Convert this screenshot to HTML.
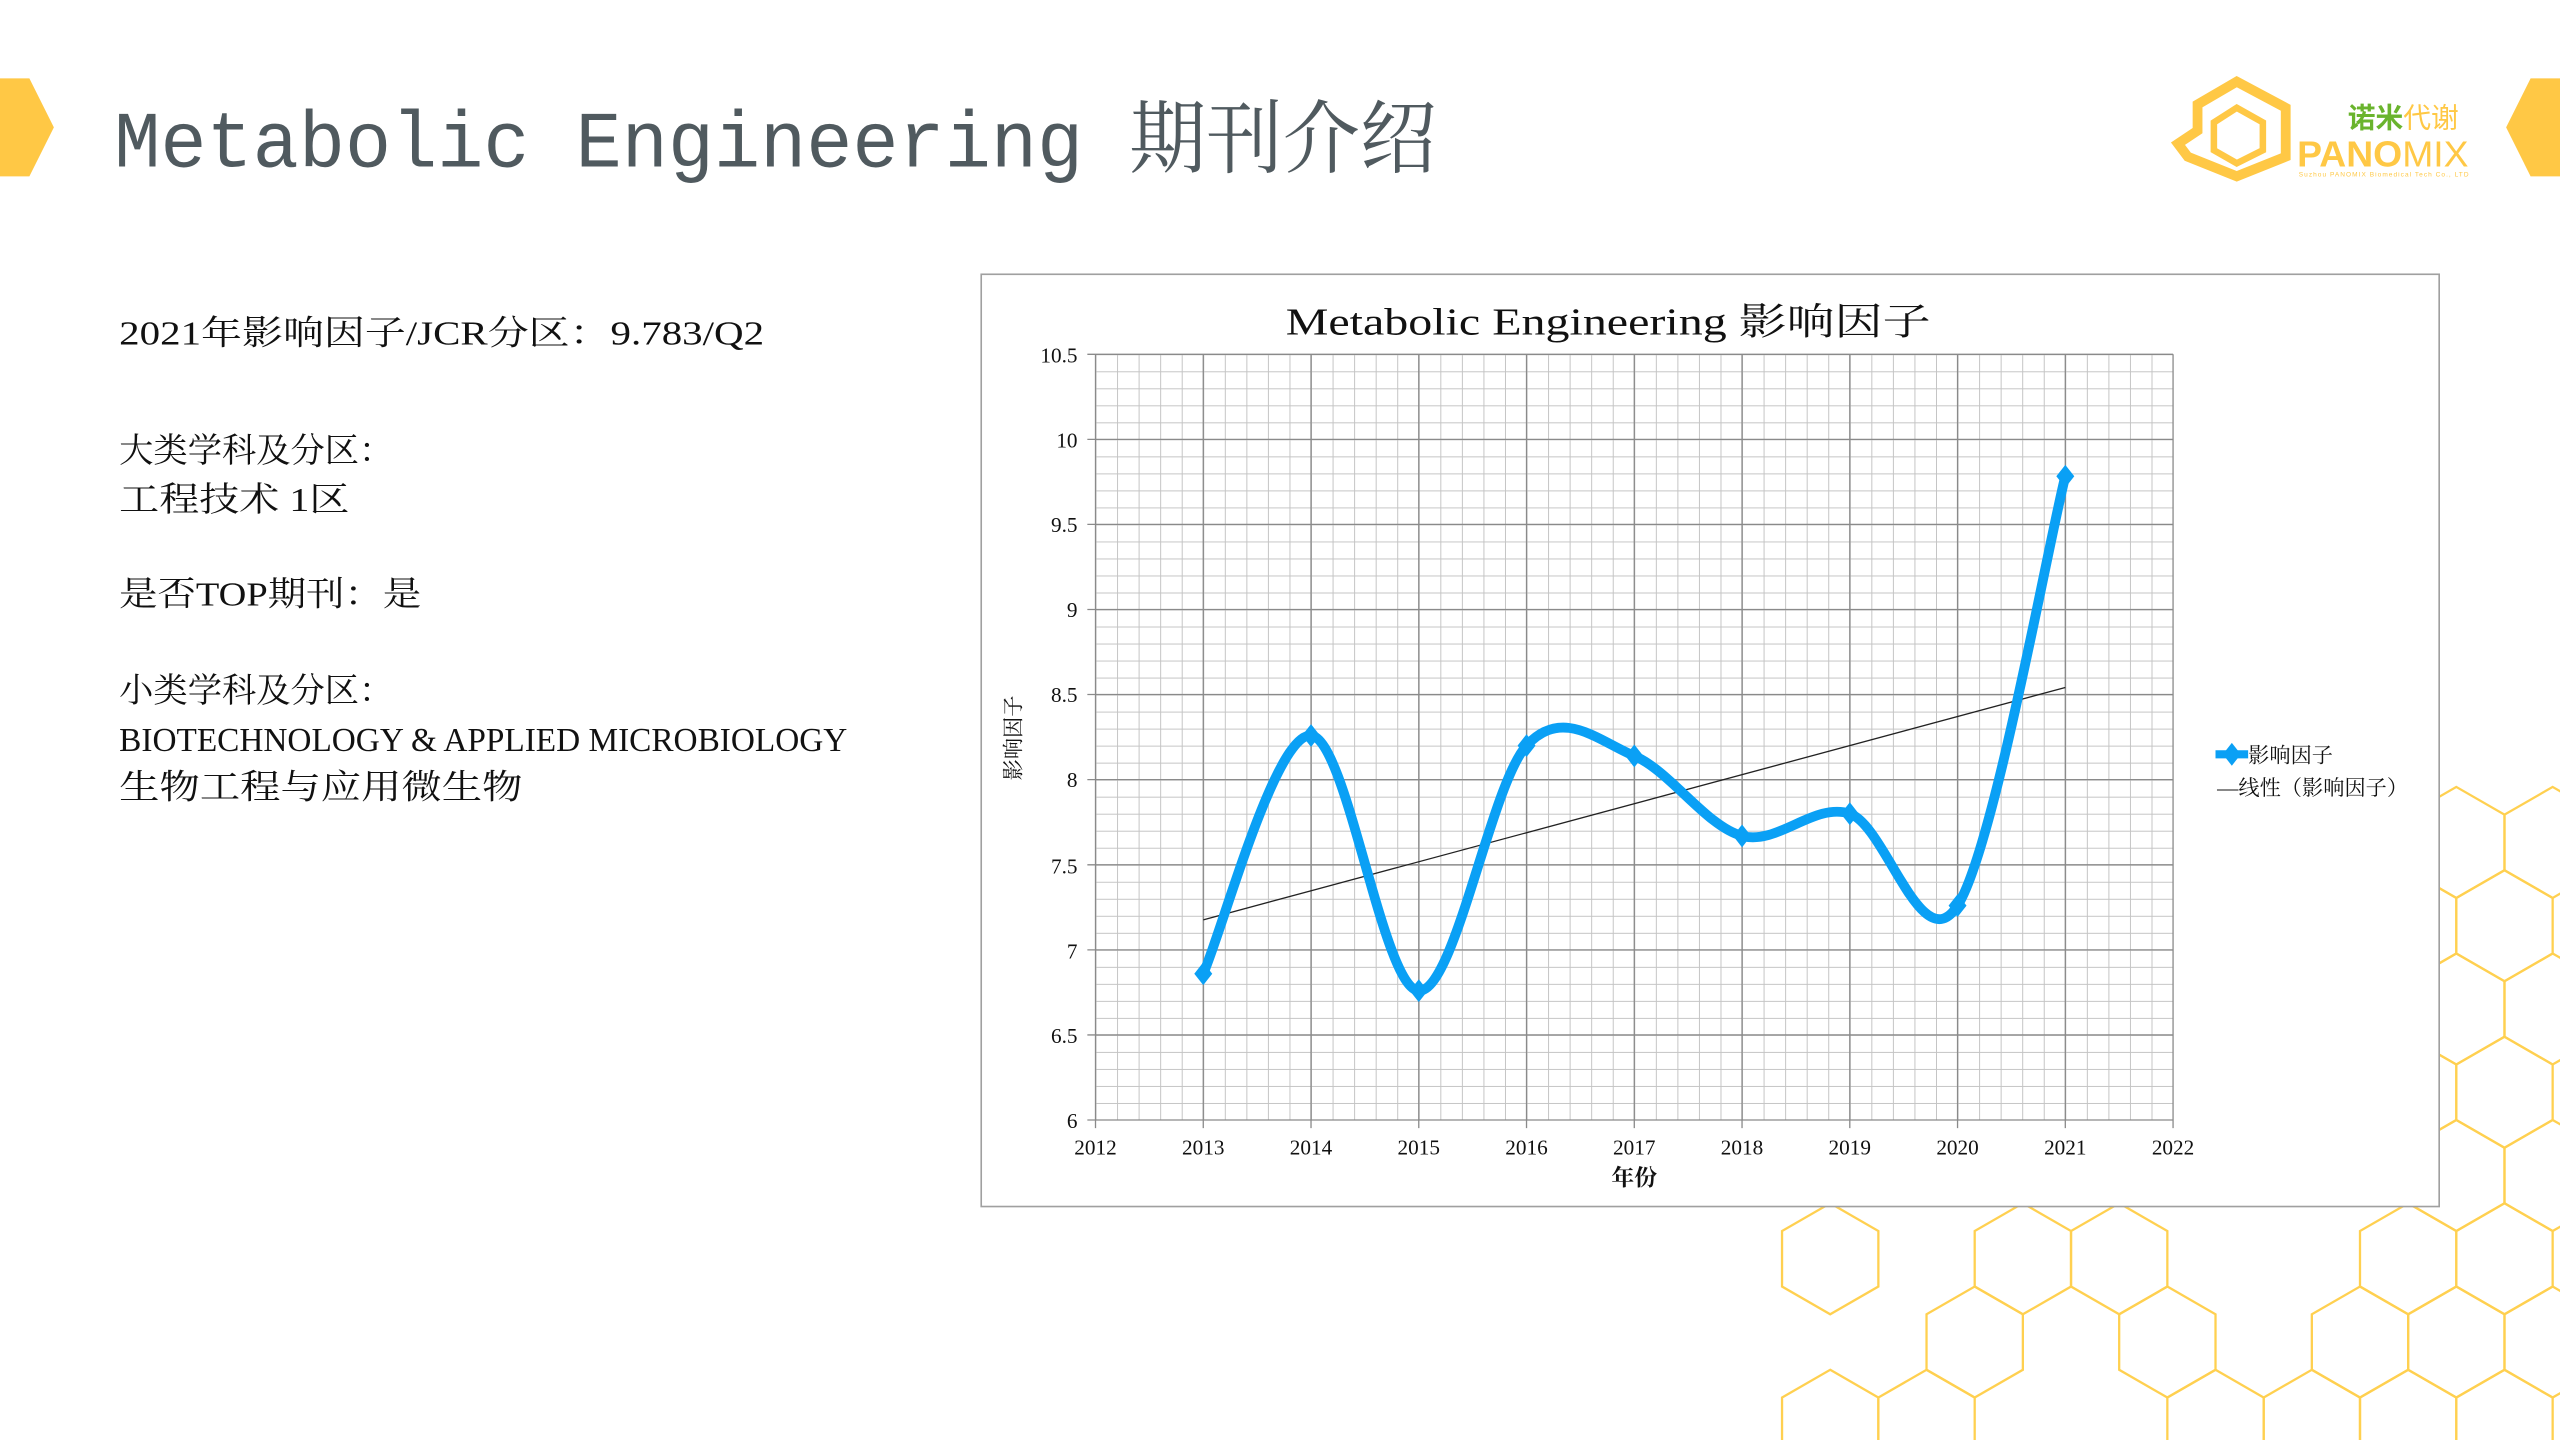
<!DOCTYPE html>
<html><head><meta charset="utf-8"><style>
html,body{margin:0;padding:0;background:#fff;width:2560px;height:1440px;overflow:hidden}
svg{display:block}
.serif{font-family:"Liberation Serif","Noto Serif CJK SC",serif}
.mono{font-family:"Liberation Mono","Noto Serif CJK SC",monospace}
</style></head><body>
<svg width="2560" height="1440" viewBox="0 0 1568 882" xmlns="http://www.w3.org/2000/svg">
<defs>
<polygon id="hx" points="0,-34 29.5,-17 29.5,17 0,34 -29.5,17 -29.5,-17" fill="none" stroke="#ffd050" stroke-width="1.4"/>
<pattern id="gv" patternUnits="userSpaceOnUse" x="671" y="0" width="13.2" height="10">
<line x1="0.3" y1="0" x2="0.3" y2="10" stroke="#c4c4c4" stroke-width="0.6"/></pattern>
<pattern id="gh" patternUnits="userSpaceOnUse" x="0" y="217" width="10" height="10.422">
<line x1="0" y1="0.3" x2="10" y2="0.3" stroke="#c4c4c4" stroke-width="0.6"/></pattern>
<polygon id="dm" points="0,-7 5.5,0 0,7 -5.5,0" fill="#0aa0f5"/>
</defs>
<g>
<use href="#hx" x="1121" y="771"/><use href="#hx" x="1239" y="771"/><use href="#hx" x="1298" y="771"/><use href="#hx" x="1475" y="771"/><use href="#hx" x="1534" y="771"/>
<use href="#hx" x="1209.5" y="822"/><use href="#hx" x="1327.5" y="822"/><use href="#hx" x="1445.5" y="822"/><use href="#hx" x="1504.5" y="822"/><use href="#hx" x="1563.5" y="822"/>
<use href="#hx" x="1121" y="873"/><use href="#hx" x="1180" y="873"/><use href="#hx" x="1357" y="873"/><use href="#hx" x="1416" y="873"/><use href="#hx" x="1475" y="873"/><use href="#hx" x="1534" y="873"/>
<use href="#hx" x="1504.5" y="720"/><use href="#hx" x="1563.5" y="720"/>
<use href="#hx" x="1475" y="669"/><use href="#hx" x="1534" y="669"/>
<use href="#hx" x="1504.5" y="618"/><use href="#hx" x="1563.5" y="618"/>
<use href="#hx" x="1475" y="567"/><use href="#hx" x="1534" y="567"/>
<use href="#hx" x="1504.5" y="516"/><use href="#hx" x="1563.5" y="516"/>
</g>
<polygon points="0,48 18,48 33,78 18,108 0,108" fill="#ffc845"/>
<polygon points="1568,48 1550,48 1535,78 1550,108 1568,108" fill="#ffc845"/>
<text x="70" y="102" class="mono" font-size="49" fill="#505a5f" textLength="810" lengthAdjust="spacingAndGlyphs">Metabolic Engineering 期刊介绍</text>
<polygon points="1370,50 1400,66 1400,96 1370,108 1340,96 1334,88 1346,80 1346,64" fill="none" stroke="#ffc845" stroke-width="6"/>
<polygon points="1370,66 1386,75 1386,92 1370,100 1356,92 1356,75" fill="none" stroke="#ffc845" stroke-width="4"/>
<text x="1438" y="78" font-family="Noto Sans CJK SC,sans-serif" font-size="17" font-weight="bold" fill="#6ab42d">诺米<tspan fill="#ffc845" font-weight="normal">代谢</tspan></text>
<text x="1407" y="102" font-family="Liberation Sans,sans-serif" font-size="22" font-weight="bold" fill="#ffc845" textLength="105" lengthAdjust="spacingAndGlyphs">PANO<tspan font-weight="normal">MIX</tspan></text>
<text x="1408" y="108" font-family="Liberation Sans,sans-serif" font-size="4" fill="#ffc845" textLength="104">Suzhou PANOMIX Biomedical Tech Co., LTD</text>
<g class="serif" font-size="21" fill="#111">
<text x="73" y="211" textLength="395" lengthAdjust="spacingAndGlyphs">2021年影响因子/JCR分区：9.783/Q2</text>
<text x="73" y="283">大类学科及分区：</text>
<text x="73" y="313" textLength="141" lengthAdjust="spacingAndGlyphs">工程技术 1区</text>
<text x="73" y="371" textLength="185" lengthAdjust="spacingAndGlyphs">是否TOP期刊：是</text>
<text x="73" y="430">小类学科及分区：</text>
<text x="73" y="460" textLength="446" lengthAdjust="spacingAndGlyphs">BIOTECHNOLOGY &amp; APPLIED MICROBIOLOGY</text>
<text x="73" y="489" textLength="247" lengthAdjust="spacingAndGlyphs">生物工程与应用微生物</text>
</g>
<rect x="601" y="168" width="893" height="571" fill="#fff" stroke="#a0a0a0" stroke-width="1"/>
<text x="985" y="205" class="serif" font-size="23" text-anchor="middle" fill="#111" textLength="395" lengthAdjust="spacingAndGlyphs">Metabolic Engineering 影响因子</text>
<rect x="671" y="217" width="660" height="469" fill="url(#gv)"/>
<rect x="671" y="217" width="660" height="469" fill="url(#gh)"/>
<g stroke="#8a8a8a" stroke-width="0.8">
<line x1="666" y1="217" x2="1331" y2="217"/><line x1="666" y1="269.1" x2="1331" y2="269.1"/><line x1="666" y1="321.2" x2="1331" y2="321.2"/><line x1="666" y1="373.3" x2="1331" y2="373.3"/><line x1="666" y1="425.4" x2="1331" y2="425.4"/><line x1="666" y1="477.5" x2="1331" y2="477.5"/><line x1="666" y1="529.7" x2="1331" y2="529.7"/><line x1="666" y1="581.8" x2="1331" y2="581.8"/><line x1="666" y1="633.9" x2="1331" y2="633.9"/><line x1="666" y1="686" x2="1331" y2="686"/>
<line x1="671" y1="217" x2="671" y2="691"/><line x1="737" y1="217" x2="737" y2="691"/><line x1="803" y1="217" x2="803" y2="691"/><line x1="869" y1="217" x2="869" y2="691"/><line x1="935" y1="217" x2="935" y2="691"/><line x1="1001" y1="217" x2="1001" y2="691"/><line x1="1067" y1="217" x2="1067" y2="691"/><line x1="1133" y1="217" x2="1133" y2="691"/><line x1="1199" y1="217" x2="1199" y2="691"/><line x1="1265" y1="217" x2="1265" y2="691"/><line x1="1331" y1="217" x2="1331" y2="691"/>
</g>
<g class="serif" font-size="13" fill="#111" text-anchor="end">
<text x="660" y="222">10.5</text><text x="660" y="274">10</text><text x="660" y="326">9.5</text><text x="660" y="378">9</text><text x="660" y="430">8.5</text><text x="660" y="482">8</text><text x="660" y="535">7.5</text><text x="660" y="587">7</text><text x="660" y="639">6.5</text><text x="660" y="691">6</text>
</g>
<g class="serif" font-size="13" fill="#111" text-anchor="middle">
<text x="671" y="707">2012</text><text x="737" y="707">2013</text><text x="803" y="707">2014</text><text x="869" y="707">2015</text><text x="935" y="707">2016</text><text x="1001" y="707">2017</text><text x="1067" y="707">2018</text><text x="1133" y="707">2019</text><text x="1199" y="707">2020</text><text x="1265" y="707">2021</text><text x="1331" y="707">2022</text>
<text x="1001" y="726" font-size="14" font-weight="bold">年份</text>
</g>
<text transform="translate(625,452) rotate(-90)" class="serif" font-size="13" text-anchor="middle" fill="#111">影响因子</text>
<line x1="737" y1="563.4" x2="1265" y2="421.1" stroke="#222" stroke-width="0.8"/>
<path d="M737,596.4 C748,572.1 781,448.8 803,450.5 C825,452.2 847,605.8 869,606.8 C891,607.8 913,480.7 935,456.7 C957,432.7 979,453.8 1001,463 C1023,472.2 1045,506.1 1067,512 C1089,517.9 1111,491.3 1133,498.4 C1155,505.5 1177,589.2 1199,554.7 C1221,520.3 1254,335.5 1265,291.7" fill="none" stroke="#0aa0f5" stroke-width="6" stroke-linejoin="round"/>
<use href="#dm" x="737" y="596.4"/><use href="#dm" x="803" y="450.5"/><use href="#dm" x="869" y="606.8"/><use href="#dm" x="935" y="456.7"/><use href="#dm" x="1001" y="463"/><use href="#dm" x="1067" y="512"/><use href="#dm" x="1133" y="498.4"/><use href="#dm" x="1199" y="554.7"/><use href="#dm" x="1265" y="291.7"/>
<line x1="1357" y1="462" x2="1377" y2="462" stroke="#0aa0f5" stroke-width="5"/>
<use href="#dm" x="1367" y="462"/>
<g class="serif" font-size="13" fill="#111">
<text x="1377" y="467">影响因子</text>
<text x="1358" y="487">—线性（影响因子）</text>
</g>
</svg>
</body></html>
